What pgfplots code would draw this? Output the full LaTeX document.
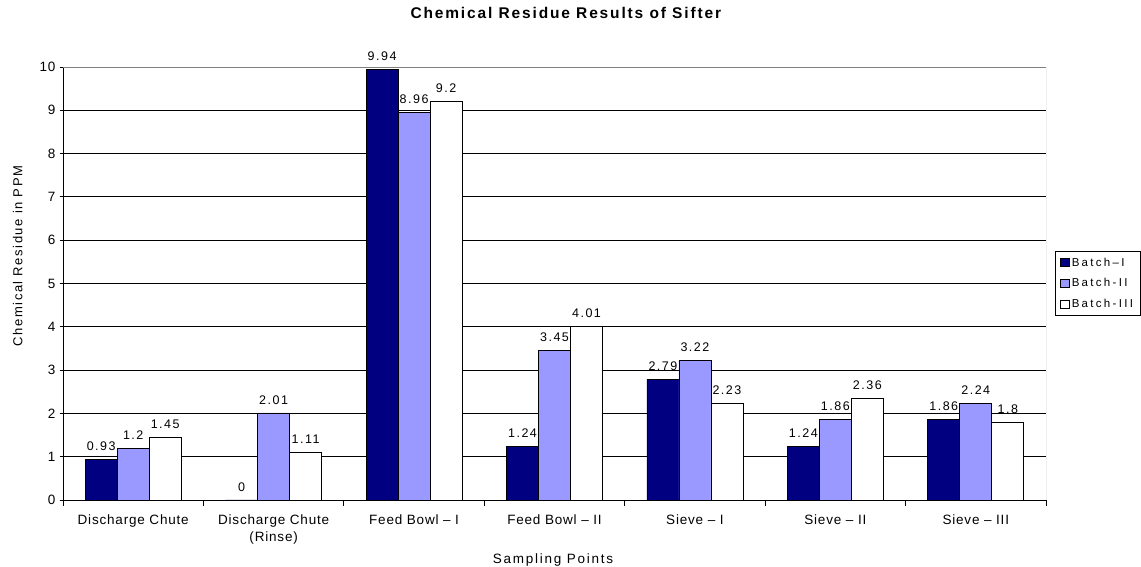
\documentclass[border=0pt]{standalone}
\usepackage{fontspec}
\setmainfont{Liberation Sans}
\newfontfamily\tickf[LetterSpace=6]{Liberation Sans}
\newfontfamily\labf[LetterSpace=13]{Liberation Sans}
\newfontfamily\ylabf[LetterSpace=12]{Liberation Sans}
\newfontfamily\datf[LetterSpace=12]{Liberation Sans}
\newfontfamily\titf[LetterSpace=12]{Liberation Sans}
\newfontfamily\legf[LetterSpace=20]{Liberation Sans}
\usepackage{pgfplots}
\pgfplotsset{compat=1.18}
\definecolor{navyb}{RGB}{0,0,128}
\definecolor{perib}{RGB}{153,153,255}
\begin{document}
\begin{tikzpicture}[x=1pt,y=1pt]
\path[use as bounding box] (-63,-67) rectangle (1078,500);
\begin{axis}[
  scale only axis, width=983pt, height=433pt,
  at={(0,0)}, anchor=south west,
  ymin=0, ymax=10, ytick={0,1,...,10},
  xmin=-0.5, xmax=6.5,
  xtick={0,...,6},
  xticklabels={Discharge Chute, {Discharge Chute\\(Rinse)}, Feed Bowl – I, Feed Bowl – II, Sieve – I, Sieve – II, Sieve – III},
  xticklabel style={align=center, font=\tickf\fontsize{13.5}{17}\selectfont, yshift=-5pt},
  yticklabel style={font=\tickf\fontsize{13.5}{16}\selectfont, xshift=-1pt},
  major x tick style={draw=none},
  minor xtick={-0.5,0.5,...,6.5},
  minor tick length=6pt, major tick length=6pt,
  tick align=outside,
  tick style={black, line width=0.8pt},
  axis lines=left,
  axis line style={black, line width=0.8pt, -},
  ymajorgrids, grid style={black, line width=0.8pt},
  ybar=0pt, bar width=32pt,
  /pgf/number format/assume math mode=true,
  nodes near coords,
  every node near coord/.append style={font=\datf\fontsize{12.5}{14}\selectfont, black, yshift=5pt},
  point meta=explicit symbolic,
  title={\bfseries Chemical Residue Results of Sifter},
  title style={at={(axis description cs:0.5115,1.11)}, anchor=center, font=\titf\fontsize{15.5}{17}\selectfont},
  xlabel={Sampling Points},
  every axis x label/.style={at={(axis description cs:0.4985,-0.1386)}, anchor=center, font=\labf\fontsize{13.5}{16}\selectfont},
  ylabel={Chemical Residue in PPM},
  every axis y label/.style={at={(axis description cs:-0.046,0.5635)}, rotate=90, anchor=center, font=\ylabf\fontsize{13}{16}\selectfont},
  legend style={at={(axis description cs:1.009,0.5)}, anchor=west, draw=black, line width=0.6pt, font=\legf\fontsize{11.5}{12}\selectfont, inner xsep=5pt, inner ysep=4pt, row sep=7pt, legend cell align=left},
  legend image code/.code={\draw[#1, line width=0.6pt] (0pt,-4pt) rectangle (9pt,4pt);},
]
\addplot[fill=navyb, draw=black, line width=0.6pt] coordinates {(0,0.93)[0.93] (1,0)[0] (2,9.94)[9.94] (3,1.24)[1.24] (4,2.79)[2.79] (5,1.24)[1.24] (6,1.86)[1.86]};
\addplot[fill=perib, draw=black, line width=0.6pt] coordinates {(0,1.2)[1.2] (1,2.01)[2.01] (2,8.96)[8.96] (3,3.45)[3.45] (4,3.22)[3.22] (5,1.86)[1.86] (6,2.24)[2.24]};
\addplot[fill=white, draw=black, line width=0.6pt] coordinates {(0,1.45)[1.45] (1,1.11)[1.11] (2,9.2)[9.2] (3,4.01)[4.01] (4,2.23)[2.23] (5,2.36)[2.36] (6,1.8)[1.8]};
\legend{Batch–I, Batch-II, Batch-III}
\draw[gray, line width=0.8pt] (rel axis cs:0,1) -- (rel axis cs:1,1) -- (rel axis cs:1,0);
\end{axis}
\end{tikzpicture}
\end{document}
